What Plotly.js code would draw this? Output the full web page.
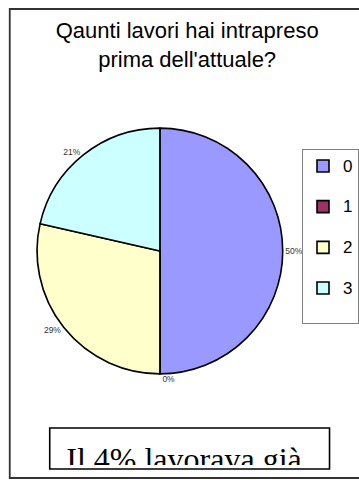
<!DOCTYPE html>
<html>
<head>
<meta charset="utf-8">
<script src="https://cdn.plot.ly/plotly-3.0.1.min.js"></script>
<style>
  html, body { margin: 0; padding: 0; background: #ffffff; }
  #chart { width: 359px; height: 480px; }
</style>
</head>
<body>
<div id="chart"></div>
<script>
// ---- data ----
var categories = ['0', '1', '2', '3'];
var counts = [7, 0, 4, 3];
var sliceColors = ['#9999FF', '#993366', '#FFFFCC', '#CCFFFF'];
var titleLines = ['Qaunti lavori hai intrapreso', "prima dell'attuale?"];
var noteText = 'Il 4% lavorava già';

// ---- layout helpers (pixel -> paper) ----
var W = 359, H = 480;
function px(x) { return x / W; }
function py(y) { return 1 - y / H; }

// legend labels: the category text, with a blank second line to give the
// roomy vertical spacing of the original legend
var legendLabels = categories.map(function (c) {
  return '<span style="font-size:17px">' + c + '</span><br>&nbsp;';
});

var cx = 164, cy = 251, r = 126;

var trace = {
  type: 'pie',
  labels: legendLabels,
  values: counts,
  sort: false,
  direction: 'clockwise',
  rotation: 0,
  marker: { colors: sliceColors, line: { color: '#000000', width: 1.6 } },
  textposition: 'outside',
  texttemplate: '%{percent:.0%}',
  textfont: { family: 'Liberation Sans, Arial, sans-serif', size: 8.5, color: '#333333' },
  outsidetextfont: { family: 'Liberation Sans, Arial, sans-serif', size: 8.5, color: '#333333' },
  domain: { x: [px(cx - r), px(cx + r)], y: [py(cy + r), py(cy - r)] },
  hoverinfo: 'none'
};

var layout = {
  width: W,
  height: H,
  margin: { l: 0, r: 0, t: 0, b: 0 },
  paper_bgcolor: '#ffffff',
  plot_bgcolor: '#ffffff',
  font: { family: 'Liberation Sans, Arial, sans-serif', color: '#000000' },
  title: {
    text: titleLines.join('<br>'),
    font: { family: 'Liberation Sans, Arial, sans-serif', size: 22, color: '#000000' },
    x: px(192), xanchor: 'center', xref: 'paper',
    y: py(38), yanchor: 'top', yref: 'container'
  },
  showlegend: true,
  legend: {
    x: px(310), xanchor: 'left',
    y: py(149), yanchor: 'top',
    bgcolor: '#ffffff',
    bordercolor: '#808080',
    borderwidth: 1,
    valign: 'top',
    font: { family: 'Liberation Sans, Arial, sans-serif', size: 14.5, color: '#000000' }
  },
  shapes: [
    { type: 'rect', xref: 'paper', yref: 'paper',
      x0: px(10), x1: px(420), y0: py(478), y1: py(9),
      line: { color: '#333333', width: 1.8 }, fillcolor: 'rgba(0,0,0,0)', layer: 'below' },
    { type: 'rect', xref: 'paper', yref: 'paper',
      x0: px(51), x1: px(338), y0: py(469), y1: py(428),
      line: { color: '#000000', width: 1.6 }, fillcolor: 'rgba(0,0,0,0)', layer: 'above' }
  ],
  annotations: [
    { text: noteText, xref: 'paper', yref: 'paper',
      x: px(189), xanchor: 'center', y: py(441), yanchor: 'top',
      width: 270, height: 24, align: 'center', valign: 'top',
      borderwidth: 0, borderpad: 0, showarrow: false,
      font: { family: 'Liberation Serif, Times New Roman, serif', size: 32, color: '#000000' } }
  ]
};

Plotly.newPlot('chart', [trace], layout, { displayModeBar: false, staticPlot: true });
</script>
</body>
</html>
